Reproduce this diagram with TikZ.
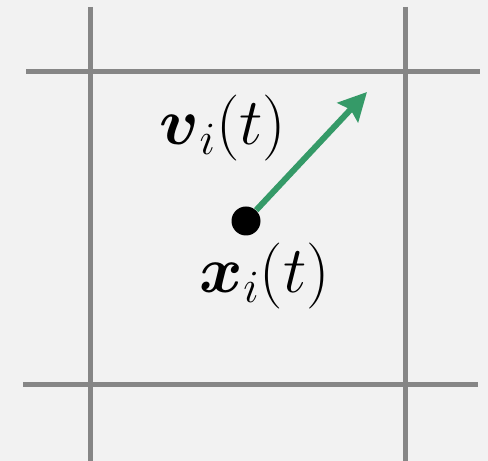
\documentclass[tikz,border=0pt]{standalone}
\usepackage{fix-cm}
\usepackage{amsmath}
\usepackage{amssymb}
\usepackage{tikz}
\usepackage{xcolor}
\usetikzlibrary{arrows.meta,calc,positioning}

\definecolor{bgcol}{HTML}{F2F2F2}
\definecolor{gridcol}{HTML}{868686}
\definecolor{velcol}{HTML}{359A68}

\tikzset{
  gridline/.style={draw=gridcol, line width=2.5pt},
  particle/.style={circle, fill=black, inner sep=0pt, minimum size=14.5pt},
  vel/.style={-{Stealth[length=14pt, width=14pt, inset=2pt]}, draw=velcol, line width=3pt},
  lbl/.style={font=\fontsize{33}{40}\selectfont}
}

\begin{document}
\begin{tikzpicture}[x=0.5pt, y=0.5pt]
  % background
  \fill[bgcol] (0,0) rectangle (488,461);
  \useasboundingbox (0,0) rectangle (488,461);

  % cell boundaries
  \draw[gridline] (90,454) -- (90,0);
  \draw[gridline] (405,454) -- (405,0);
  \draw[gridline] (26,389) -- (480,389);
  \draw[gridline] (23,76) -- (478,76);

  % particle and its velocity
  \node[particle] (xi) at (246,240) {};
  \coordinate (tip) at (367,369);
  \draw[vel] (xi) -- (tip);

  % labels
  \node[lbl] (vlab) at (223,333) {$\boldsymbol{v}_i(t)$};
  \node[lbl] (xlab) at (265,185) {$\boldsymbol{x}_i(t)$};
\end{tikzpicture}
\end{document}
